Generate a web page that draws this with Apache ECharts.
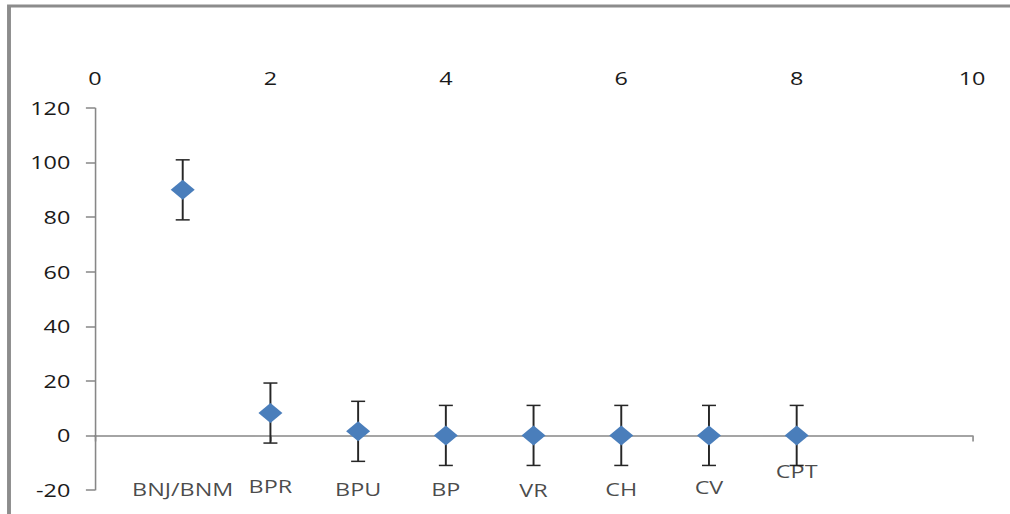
<!DOCTYPE html>
<html>
<head>
<meta charset="utf-8">
<style>
html,body{margin:0;padding:0;background:#fff;overflow:hidden;}
#wrap{width:1010px;height:514px;overflow:hidden;}
#c{width:777px;height:514px;transform:scaleX(1.3);transform-origin:0 0;}
</style>
<script src="https://cdn.jsdelivr.net/npm/echarts@6/dist/echarts.min.js"></script>
</head>
<body>
<div id="wrap"><div id="c"></div></div>
<script>
var categories = ['BNJ/BNM','BPR','BPU','BP','VR','CH','CV','CPT'];
var xValues = [1,2,3,4,5,6,7,8];
var yValues = [90,8.2,1.5,0,0,0,0,0];
var errors = [11,11,11,11,11,11,11,11];
var labelY = [-19.8,-18.7,-19.8,-19.8,-20.2,-19.8,-19.1,-13.2];
var xTicks = [0,2,4,6,8,10];
var yTicks = [-20,0,20,40,60,80,100,120];

var S = 1.3; // horizontal stretch of the reference picture
var font = "'Open Sans', 'Liberation Sans', sans-serif";
var pts = xValues.map(function(x,i){return [x,yValues[i]];});
var errData = xValues.map(function(x,i){return [x,yValues[i]-errors[i],yValues[i]+errors[i]];});
var lblData = xValues.map(function(x,i){return {value:[x,labelY[i]],name:categories[i]};});

var chart = echarts.init(document.getElementById('c'), null, {renderer:'svg'});
chart.setOption({
  animation:false,
  backgroundColor:'#fff',
  graphic:[{type:'polyline',shape:{points:[[9/S,514],[9/S,6],[777,6]]},style:{stroke:'#8c8c8c',lineWidth:3,fill:null}}],
  grid:{left:95/S,right:38/S,top:108,bottom:24},
  xAxis:[{
    type:'value',position:'top',min:0,max:10,interval:2,
    axisLine:{show:false,onZero:false},axisTick:{show:false},splitLine:{show:false},
    axisLabel:{margin:21,fontSize:18,color:'#1a1a1a',fontFamily:font}
  },{
    type:'value',position:'bottom',min:0,max:10,interval:2,
    axisLine:{show:true,onZero:true,lineStyle:{color:'#878787',width:1.5}},
    axisTick:{show:true,length:6,inside:false,lineStyle:{color:'#878787',width:1.2}},
    axisLabel:{show:false},splitLine:{show:false}
  }],
  yAxis:{
    type:'value',min:-20,max:120,interval:20,
    axisLine:{show:true,onZero:false,lineStyle:{color:'#878787',width:1.2}},
    axisTick:{show:true,length:7,lineStyle:{color:'#878787',width:1.5}},
    splitLine:{show:false},
    axisLabel:{margin:19,fontSize:18,color:'#1a1a1a',fontFamily:font}
  },
  series:[{
    type:'custom',xAxisIndex:1,data:errData,z:3,clip:false,
    renderItem:function(params,api){
      var x=api.value(0);
      var lo=api.coord([x,api.value(1)]);
      var hi=api.coord([x,api.value(2)]);
      var w=7/S;
      var st={stroke:'#262626',lineWidth:1.5};
      return {type:'group',children:[
        {type:'line',shape:{x1:lo[0],y1:lo[1],x2:hi[0],y2:hi[1]},style:st},
        {type:'line',shape:{x1:lo[0]-w,y1:lo[1],x2:lo[0]+w,y2:lo[1]},style:st},
        {type:'line',shape:{x1:hi[0]-w,y1:hi[1],x2:hi[0]+w,y2:hi[1]},style:st}
      ]};
    }
  },{
    type:'scatter',xAxisIndex:1,data:pts,symbol:'diamond',symbolSize:[24/S,20],z:4,
    itemStyle:{color:'#4a7ebb',opacity:1}
  },{
    type:'scatter',xAxisIndex:1,data:lblData,symbol:'circle',symbolSize:0,z:5,clip:false,
    itemStyle:{color:'transparent'},
    label:{show:true,position:'inside',formatter:'{b}',fontSize:18,color:'#1a1a1a',fontFamily:font}
  }]
});
</script>
</body>
</html>
